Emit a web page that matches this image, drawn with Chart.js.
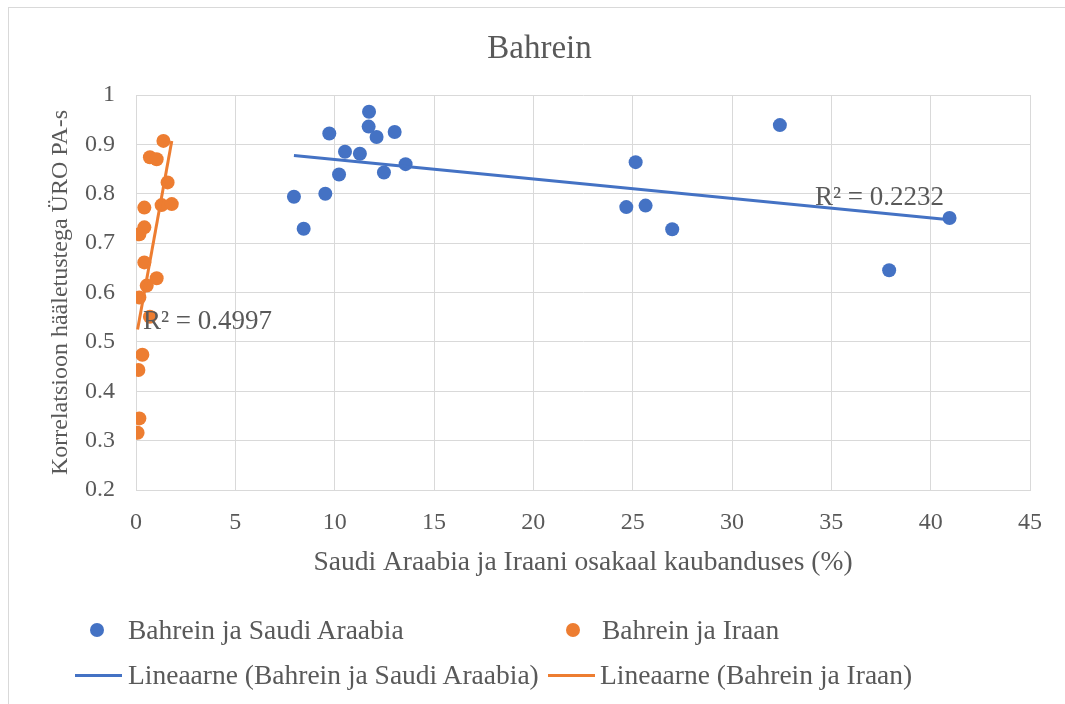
<!DOCTYPE html>
<html lang="et">
<head>
<meta charset="UTF-8">
<title>Bahrein</title>
<script src="https://cdn.jsdelivr.net/npm/chart.js@4.4.0/dist/chart.umd.min.js"></script>
<style>
  html, body { margin: 0; padding: 0; background: #fff; overflow: hidden; }
  #wrap { position: relative; width: 1065px; height: 704px; overflow: hidden; font-family: "Liberation Serif", "Times New Roman", serif; color: #595959; }
  #frame { position: absolute; left: 8px; top: 7px; width: 1200px; height: 800px; border: 1px solid #d9d9d9; }
  canvas { position: absolute; left: 0; top: 0; }
  .txt { position: absolute; white-space: nowrap; line-height: 32px; }
  .dot { position: absolute; width: 14px; height: 14px; border-radius: 50%; }
  .ln { position: absolute; height: 3px; }
</style>
</head>
<body>
<div id="wrap">
  <div id="frame"></div>
  <canvas id="chart" width="1065" height="704"></canvas>

  <div class="txt" style="left:0;width:1079px;text-align:center;top:31px;font-size:33px;">Bahrein</div>

  <div class="txt" style="left:143px;top:304px;font-size:27px;">R² = 0.4997</div>
  <div class="txt" style="left:815px;top:180px;font-size:27px;">R² = 0.2232</div>

  <div class="dot" style="left:90px;top:623px;background:#4472C4;"></div>
  <div class="txt" style="left:128px;top:614px;font-size:27.5px;">Bahrein ja Saudi Araabia</div>
  <div class="dot" style="left:566px;top:623px;background:#ED7D31;"></div>
  <div class="txt" style="left:602px;top:614px;font-size:27.5px;">Bahrein ja Iraan</div>

  <div class="ln" style="left:75px;width:47px;top:674px;background:#4472C4;"></div>
  <div class="txt" style="left:128px;top:659px;font-size:27.5px;">Lineaarne (Bahrein ja Saudi Araabia)</div>
  <div class="ln" style="left:548px;width:47px;top:674px;background:#ED7D31;"></div>
  <div class="txt" style="left:600px;top:659px;font-size:27.5px;">Lineaarne (Bahrein ja Iraan)</div>
</div>

<script>
// Bahrein ja Saudi Araabia
const saudiX = [7.95, 8.44, 9.53, 9.73, 10.22, 10.52, 11.27, 11.73, 11.71, 12.11, 12.48, 13.02, 13.57,
                25.15, 24.68, 25.65, 26.99, 32.41, 40.95, 37.91];
const saudiY = [0.794, 0.729, 0.800, 0.922, 0.839, 0.885, 0.881, 0.966, 0.936, 0.915, 0.843, 0.925, 0.860,
                0.864, 0.773, 0.776, 0.728, 0.939, 0.751, 0.645];

// Bahrein ja Iraan
const iraanX = [1.38, 0.70, 1.04, 1.59, 1.29, 1.80, 0.42, 0.42, 0.17, 0.42, 1.04, 0.54, 0.17, 0.70,
                0.32, 0.12, 0.17, 0.08];
const iraanY = [0.907, 0.874, 0.870, 0.823, 0.777, 0.779, 0.772, 0.732, 0.718, 0.661, 0.629, 0.614, 0.590, 0.551,
                0.474, 0.443, 0.345, 0.316];

const xMin = 0, xMax = 45, xStep = 5;
const yMin = 0.2, yMax = 1, yStep = 0.1;

const blue = '#4472C4';
const orange = '#ED7D31';
const grey = '#595959';
const gridGrey = '#d9d9d9';

function points(xs, ys) {
  return xs.map((x, i) => ({ x: x, y: ys[i] }));
}

// least squares trend line, drawn from min x to max x like Excel does
function trend(xs, ys) {
  const n = xs.length;
  const mx = xs.reduce((s, v) => s + v, 0) / n;
  const my = ys.reduce((s, v) => s + v, 0) / n;
  let sxy = 0, sxx = 0;
  for (let i = 0; i < n; i++) {
    sxy += (xs[i] - mx) * (ys[i] - my);
    sxx += (xs[i] - mx) * (xs[i] - mx);
  }
  const b = sxy / sxx;
  const a = my - b * mx;
  const lo = Math.min(...xs), hi = Math.max(...xs);
  return [{ x: lo, y: a + b * lo }, { x: hi, y: a + b * hi }];
}

const serif = '"Liberation Serif", "Times New Roman", serif';

new Chart(document.getElementById('chart'), {
  type: 'scatter',
  data: {
    datasets: [
      {
        label: 'Lineaarne (Bahrein ja Saudi Araabia)',
        data: trend(saudiX, saudiY),
        showLine: true,
        borderColor: blue,
        borderWidth: 3,
        pointRadius: 0,
        order: 0
      },
      {
        label: 'Lineaarne (Bahrein ja Iraan)',
        data: trend(iraanX, iraanY),
        showLine: true,
        borderColor: orange,
        borderWidth: 3,
        pointRadius: 0,
        order: 0
      },
      {
        label: 'Bahrein ja Saudi Araabia',
        data: points(saudiX, saudiY),
        backgroundColor: blue,
        borderColor: blue,
        pointRadius: 7,
        borderWidth: 0,
        order: 1
      },
      {
        label: 'Bahrein ja Iraan',
        data: points(iraanX, iraanY),
        backgroundColor: orange,
        borderColor: orange,
        pointRadius: 7,
        borderWidth: 0,
        order: 1
      }
    ]
  },
  options: {
    responsive: false,
    animation: false,
    devicePixelRatio: 1,
    layout: { padding: { top: 95, left: 0, right: 35, bottom: 114 } },
    plugins: {
      legend: { display: false },
      title: { display: false },
      tooltip: { enabled: false }
    },
    scales: {
      x: {
        type: 'linear',
        min: xMin,
        max: xMax,
        afterFit: s => { s.height = 100; },
        ticks: {
          stepSize: xStep,
          color: grey,
          padding: 18,
          font: { family: serif, size: 24 }
        },
        grid: { color: gridGrey, drawTicks: false },
        border: { color: gridGrey },
        title: {
          display: true,
          text: 'Saudi Araabia ja Iraani osakaal kaubanduses (%)',
          color: grey,
          font: { family: serif, size: 27.5 },
          padding: { top: 0, bottom: 11 }
        }
      },
      y: {
        type: 'linear',
        min: yMin,
        max: yMax,
        afterFit: s => { s.width = 136; },
        ticks: {
          stepSize: yStep,
          color: grey,
          padding: 21,
          font: { family: serif, size: 24 },
          callback: v => +v.toFixed(1)
        },
        grid: { color: gridGrey, drawTicks: false },
        border: { color: gridGrey },
        title: {
          display: true,
          text: 'Korrelatsioon hääletustega ÜRO PA-s',
          color: grey,
          font: { family: serif, size: 24 },
          padding: { top: 46, bottom: 0 }
        }
      }
    }
  }
});
</script>
</body>
</html>
